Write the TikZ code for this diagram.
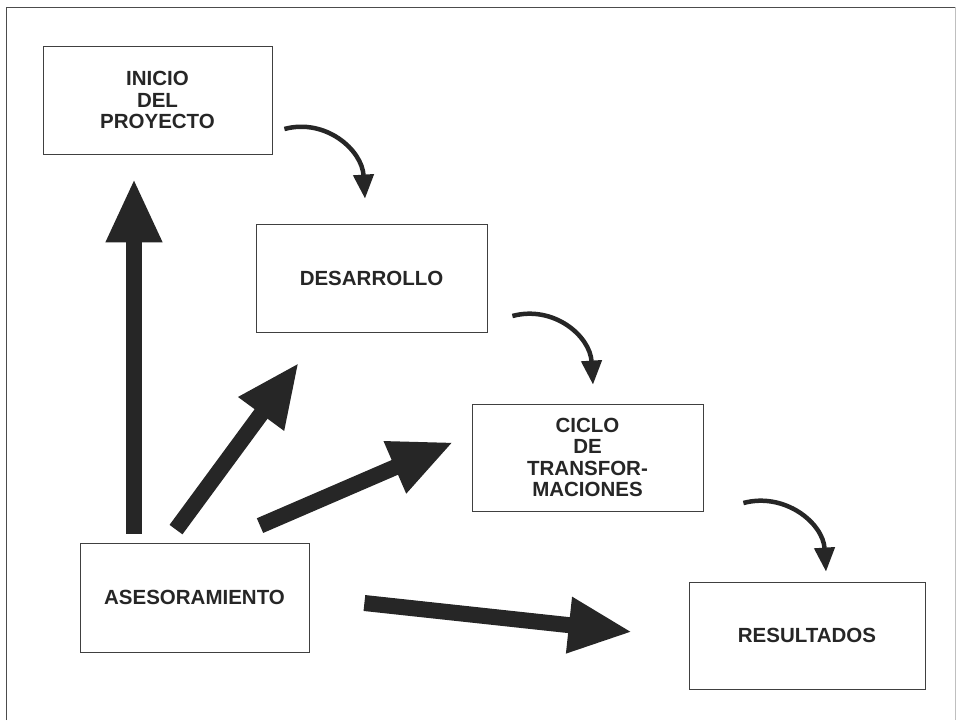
\documentclass[tikz,border=0pt]{standalone}
\usepackage{fontspec}
\setmainfont{Liberation Sans}
\usetikzlibrary{arrows.meta}
\tikzset{
  caja/.style={draw=black!75,line width=0.8pt,inner sep=0pt,align=center,
    font=\fontsize{20.5}{21.5}\selectfont\bfseries,text=black!85},
  flecha/.style={line width=16pt,draw=black!85,-{Triangle[length=64pt,width=52pt]}},
  curva/.style={line width=4.5pt,draw=black!85,-{Triangle[length=24pt,width=20pt]}}
}
\begin{document}
\begin{tikzpicture}[x=1pt,y=-1pt]
      \useasboundingbox (0,0) rectangle (957,720);
      \draw[black!70,line width=1pt] (6,720) -- (6,7) -- (956,7);
      \draw[black!25,line width=0.6pt] (955,7) -- (955,720);
      \draw
        (157.5,100) node[caja,minimum width=229pt,minimum height=108pt] (inicio){INICIO\\DEL\\PROYECTO}
        (371.5,278) node[caja,minimum width=231pt,minimum height=108pt] (desarrollo){DESARROLLO}
        (587.5,457.5) node[caja,minimum width=231pt,minimum height=107pt] (ciclo){CICLO\\DE\\TRANSFOR-\\MACIONES}
        (194.5,597.5) node[caja,minimum width=229pt,minimum height=109pt] (asesor){ASESORAMIENTO}
        (807,635.5) node[caja,minimum width=236pt,minimum height=107pt] (result){RESULTADOS};
      \begin{scope}[flecha]
        \draw ([shift={(-60.5,-9)}]asesor.north) to ([shift={(-23.5,24)}]inicio.south);
        \draw ([shift={(-18.5,-13)}]asesor.north) to ([shift={(-72.5,30)}]desarrollo.south);
        \draw ([shift={(65.5,-17)}]asesor.north) to ([shift={(-18,-15.5)}]ciclo.west);
        \draw ([shift={(55,5.5)}]asesor.east) to ([shift={(-56,-3.5)}]result.west);
      \end{scope}
      \begin{scope}[curva]
        \draw ([shift={(12,29)}]inicio.east) .. controls +(41,-11) and +(-3,-49) .. ([shift={(-6.5,-25)}]desarrollo.north);
        \draw ([shift={(25,38)}]desarrollo.east) .. controls +(41,-11) and +(-3,-49) .. ([shift={(5.5,-19)}]ciclo.north);
        \draw ([shift={(40,45.5)}]ciclo.east) .. controls +(41,-11) and +(-3,-49) .. ([shift={(19,-10)}]result.north);
      \end{scope}
    \end{tikzpicture}
\end{document}
